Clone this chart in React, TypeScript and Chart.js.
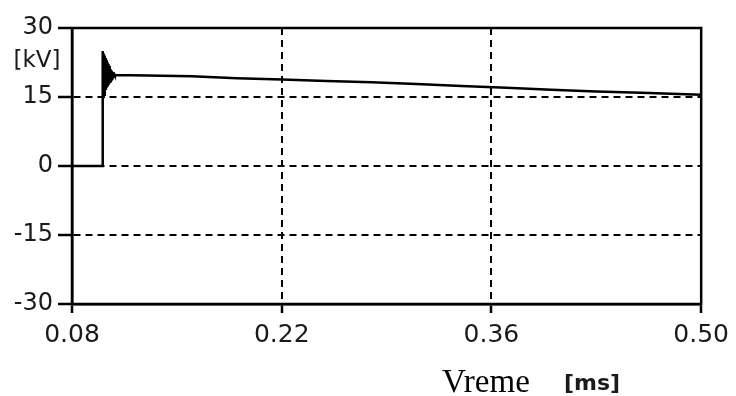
import React, { useEffect, useRef } from "react";
import { Chart, registerables } from "chart.js";

Chart.register(...registerables);

// time in ms
const timeMs: number[] = [
  0.08, 0.1004, 0.1005, 0.1008, 0.1011, 0.1014, 0.1017, 0.102, 0.1023, 0.1026,
  0.1029, 0.1032, 0.1035, 0.1038, 0.1041, 0.1044, 0.1047, 0.105, 0.1053, 0.1056,
  0.1059, 0.1062, 0.1065, 0.1068, 0.1071, 0.1074, 0.1077, 0.108, 0.1083, 0.1086, 0.109,
  0.13, 0.16, 0.19, 0.22, 0.25, 0.28, 0.31, 0.34, 0.37, 0.4, 0.43, 0.46, 0.5,
];
// voltage in kV
const voltageKV: number[] = [
  0, 0, 25, 15, 24.5, 15.5, 24, 16, 23.5, 16.5,
  23, 17, 22.5, 17.3, 22.2, 17.6, 21.8, 18, 21.4, 18.4,
  21, 18.8, 20.7, 19.1, 20.4, 19.4, 20.1, 19.6, 19.9, 19.7, 19.8,
  19.7, 19.5, 19.1, 18.8, 18.5, 18.2, 17.8, 17.4, 17.0, 16.6, 16.2, 15.9, 15.5,
];
const xTicks: number[] = [0.08, 0.22, 0.36, 0.5];
const yTicks: number[] = [-30, -15, 0, 15, 30];
const yUnit = "[kV]";
const xTitle = "Vreme";
const xUnit = "[ms]";

const labelsPlugin = {
  id: "labelsPlugin",
  afterDraw(chart: any) {
    const { ctx, chartArea } = chart;
    ctx.save();
    // frame
    ctx.strokeStyle = "#000";
    ctx.lineWidth = 2.5;
    ctx.strokeRect(chartArea.left, chartArea.top, chartArea.right - chartArea.left, chartArea.bottom - chartArea.top);
    // y unit
    ctx.fillStyle = "#1a1a1a";
    ctx.font = "23px 'DejaVu Sans'";
    ctx.textAlign = "center";
    ctx.textBaseline = "middle";
    ctx.fillText(yUnit, 37, 61);
    // x title
    ctx.textAlign = "left";
    ctx.textBaseline = "alphabetic";
    ctx.fillStyle = "#000";
    ctx.font = "33px 'Liberation Serif'";
    ctx.fillText(xTitle, 442, 392);
    ctx.fillStyle = "#1a1a1a";
    ctx.font = "bold 22px 'DejaVu Sans'";
    ctx.fillText(xUnit, 564, 390);
    ctx.restore();
  },
};

export default function App() {
  const ref = useRef<HTMLCanvasElement>(null);
  useEffect(() => {
    if (!ref.current) return;
    const points = timeMs.map((t, i) => ({ x: t, y: voltageKV[i] }));
    const chart = new Chart(ref.current, {
      type: "line",
      data: {
        datasets: [
          {
            data: points,
            borderColor: "#000",
            borderWidth: 2.5,
            pointRadius: 0,
            tension: 0,
            fill: false,
          },
        ],
      },
      options: {
        responsive: false,
        animation: false,
        layout: { padding: { top: 28, right: 31, left: 0, bottom: 0 } },
        plugins: { legend: { display: false }, tooltip: { enabled: false } },
        scales: {
          x: {
            type: "linear",
            min: 0.08,
            max: 0.5,
            afterBuildTicks: (scale: any) => {
              scale.ticks = xTicks.map((v) => ({ value: v }));
            },
            afterFit: (scale: any) => {
              scale.height = 92;
            },
            ticks: {
              color: "#1a1a1a",
              font: { family: "DejaVu Sans", size: 25 },
              padding: 7,
              maxRotation: 0,
              autoSkip: false,
              callback: (v: any) => Number(v).toFixed(2),
            },
            grid: {
              color: (c: any) => (c.tick && (c.tick.value === 0.08 || c.tick.value === 0.5) ? "rgba(0,0,0,0)" : "#000"),
              lineWidth: 2,
              tickColor: "#000",
              tickLength: 9,
              tickWidth: 2.5,
            },
            border: { display: true, color: "#000", width: 2.5, dash: [7, 5] },
          },
          y: {
            type: "linear",
            min: -30,
            max: 30,
            afterBuildTicks: (scale: any) => {
              scale.ticks = yTicks.map((v) => ({ value: v }));
            },
            afterFit: (scale: any) => {
              scale.width = 72;
            },
            ticks: {
              color: "#1a1a1a",
              font: { family: "DejaVu Sans", size: 24 },
              padding: 5,
              autoSkip: false,
            },
            grid: {
              color: (c: any) => (c.tick && (c.tick.value === 30 || c.tick.value === -30) ? "rgba(0,0,0,0)" : "#000"),
              lineWidth: 2,
              tickColor: "#000",
              tickLength: 14,
              tickWidth: 2.5,
            },
            border: { display: true, color: "#000", width: 2.5, dash: [7, 5] },
          },
        },
      },
      plugins: [labelsPlugin],
    });
    return () => chart.destroy();
  }, []);
  return (
    <div style={{ position: "fixed", left: 0, top: 0, width: 736, height: 396, background: "#fff" }}>
      <canvas ref={ref} width={736} height={396} />
    </div>
  );
}
